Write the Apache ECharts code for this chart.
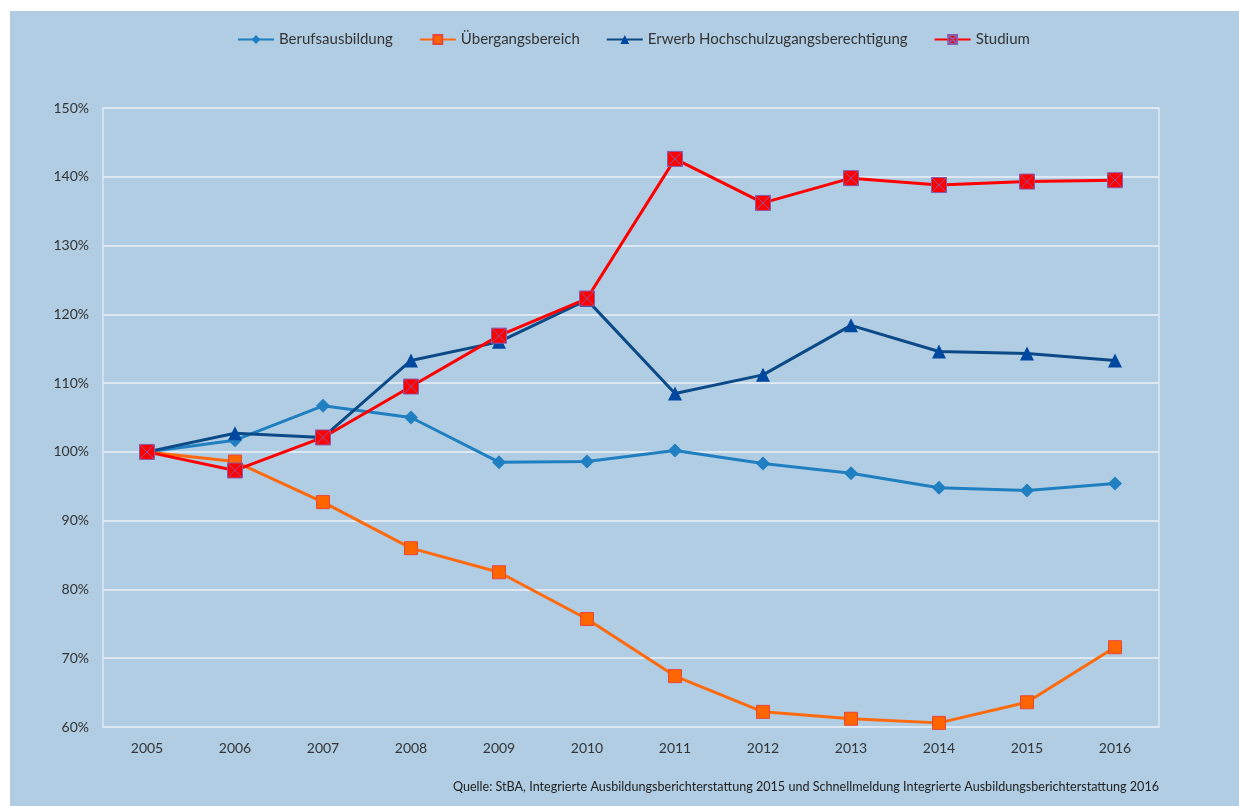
<!DOCTYPE html>
<html>
<head>
<meta charset="utf-8">
<script src="https://cdn.jsdelivr.net/npm/echarts@6/dist/echarts.min.js"></script>
<style>
  html, body { margin: 0; padding: 0; background: #ffffff; }
  #chart { position: absolute; left: 10px; top: 11px; width: 1229px; height: 795px; background: #b1cde3; }
</style>
</head>
<body>
<div id="chart"></div>
<script>
// Jahre
const years = ["2005", "2006", "2007", "2008", "2009", "2010", "2011", "2012", "2013", "2014", "2015", "2016"];

// Index 2005 = 100 %
const berufsausbildung = [100, 101.7, 106.7, 105.0, 98.5, 98.6, 100.2, 98.3, 96.9, 94.8, 94.4, 95.4];
const uebergangsbereich = [100, 98.6, 92.7, 86.0, 82.5, 75.7, 67.4, 62.2, 61.2, 60.6, 63.6, 71.6];
const erwerbHzb = [100, 102.7, 102.1, 113.3, 116.0, 122.1, 108.5, 111.2, 118.4, 114.6, 114.3, 113.3];
const studium = [100, 97.3, 102.1, 109.5, 116.9, 122.3, 142.6, 136.2, 139.8, 138.8, 139.3, 139.5];

const seriesNames = ["Berufsausbildung", "Übergangsbereich", "Erwerb Hochschulzugangsberechtigung", "Studium"];
const yMin = 60, yMax = 150, yStep = 10;
const sourceText = "Quelle: StBA, Integrierte Ausbildungsberichterstattung 2015 und Schnellmeldung Integrierte Ausbildungsberichterstattung 2016";

const font = "Lato, 'Open Sans', sans-serif";
const crossBox = "path://M0,0 L10,0 L10,10 L0,10 Z M0,0 L10,10 M10,0 L0,10";

const chart = echarts.init(document.getElementById("chart"));
const option = {
  backgroundColor: "#b1cde3",
  textStyle: { fontFamily: font },
  legend: {
    top: 16,
    left: 222,
    itemGap: 26,
    itemWidth: 36,
    itemHeight: 11,
    textStyle: { fontFamily: font, fontSize: 15, color: "#333" },
    data: seriesNames
  },
  grid: {
    left: 93,
    right: 80,
    top: 97,
    bottom: 79,
    show: true,
    borderColor: "#dbe7f1",
    borderWidth: 1.5,
    containLabel: false
  },
  xAxis: {
    type: "category",
    data: years,
    boundaryGap: true,
    axisLine: { show: false },
    axisTick: { show: false },
    axisLabel: { margin: 14, fontSize: 14, color: "#333", fontFamily: font }
  },
  yAxis: {
    type: "value",
    min: yMin,
    max: yMax,
    interval: yStep,
    axisLine: { show: false },
    axisTick: { show: false },
    splitLine: { lineStyle: { color: "#dde8f2", width: 2 } },
    axisLabel: {
      margin: 14,
      fontSize: 14,
      color: "#333",
      fontFamily: font,
      formatter: v => v + "%"
    }
  },
  series: [
    {
      name: seriesNames[0],
      type: "line",
      data: berufsausbildung,
      symbol: "diamond",
      symbolSize: 14,
      lineStyle: { color: "#1f7fc0", width: 3 },
      itemStyle: { color: "#1f7fc0" },
      z: 2
    },
    {
      name: seriesNames[1],
      type: "line",
      data: uebergangsbereich,
      symbol: "rect",
      symbolSize: 13,
      lineStyle: { color: "#ff6a0e", width: 3 },
      itemStyle: { color: "#ff6600", borderColor: "#e8443a", borderWidth: 1 },
      z: 3
    },
    {
      name: seriesNames[2],
      type: "line",
      data: erwerbHzb,
      symbol: "triangle",
      symbolSize: 14,
      lineStyle: { color: "#0b4a86", width: 3 },
      itemStyle: { color: "#0047a0" },
      z: 4
    },
    {
      name: seriesNames[3],
      type: "line",
      data: studium,
      symbol: crossBox,
      symbolSize: 15,
      lineStyle: { color: "#ff0000", width: 3 },
      itemStyle: { color: "#ff0000", borderColor: "#8a5aa8", borderWidth: 1 },
      z: 5
    }
  ],
  graphic: [
    {
      type: "text",
      right: 80,
      top: 769,
      style: {
        text: sourceText,
        fontFamily: font,
        fontSize: 12.6,
        fill: "#222"
      }
    }
  ]
};
chart.setOption(option);
window.addEventListener("resize", () => chart.resize());
</script>
</body>
</html>
